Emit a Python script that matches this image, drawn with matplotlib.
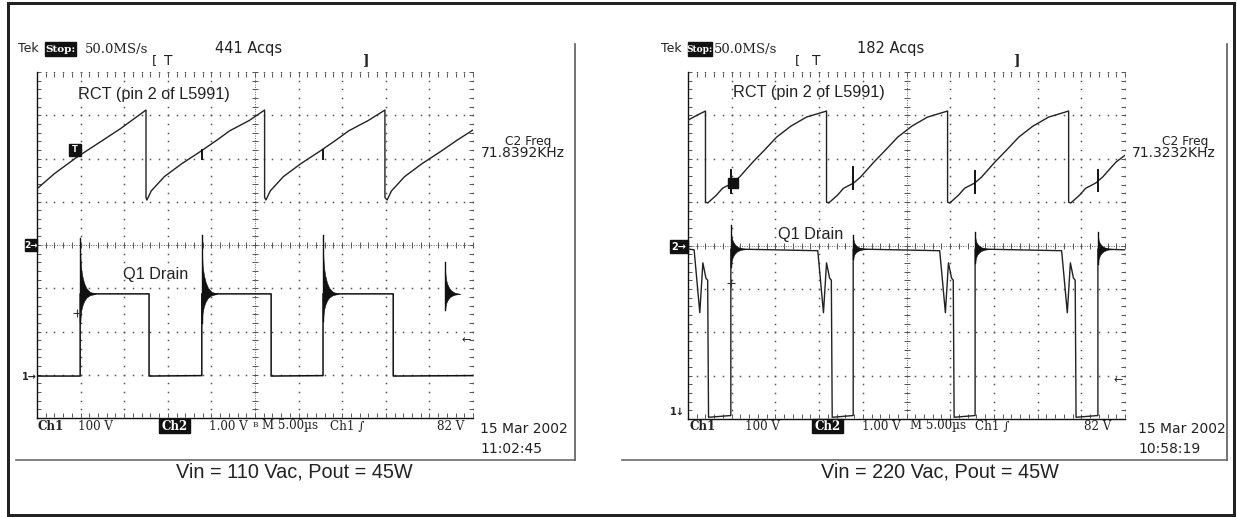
import numpy as np
import matplotlib
matplotlib.use("Agg")
import matplotlib.pyplot as plt
from matplotlib.patches import Rectangle

# ---------------- data (screen divisions: x 0..10, y 0..8) ----------------
# Left screen: Vin = 110 Vac
L_RCT_T = [0.00, 0.40, 0.90, 1.40, 1.90, 2.20, 2.50,
           2.50, 2.52, 2.62, 2.92, 3.32, 3.73, 4.12, 4.42, 4.87, 5.22,
           5.22, 5.25, 5.35, 5.65, 6.05, 6.46, 6.85, 7.15, 7.60, 7.98,
           7.98, 8.03, 8.13, 8.43, 8.83, 9.24, 9.63, 10.00]
L_RCT_V = [5.30, 5.65, 6.02, 6.35, 6.68, 6.90, 7.12,
           5.10, 5.04, 5.25, 5.58, 5.88, 6.15, 6.42, 6.64, 6.88, 7.12,
           5.10, 5.04, 5.25, 5.58, 5.88, 6.15, 6.42, 6.64, 6.88, 7.12,
           5.10, 5.04, 5.25, 5.58, 5.88, 6.15, 6.42, 6.66]
L_DRN_T = [0.00, 0.99, 0.99, 2.57, 2.57, 3.78, 3.78, 5.37, 5.37, 6.56, 6.56, 8.17, 8.17, 10.00]
L_DRN_V = [0.97, 0.97, 2.87, 2.87, 0.97, 0.98, 2.87, 2.87, 0.97, 0.98, 2.87, 2.87, 0.97, 0.98]
L_EDGE_T = [0.99, 3.78, 6.56, 9.36]       # rising edges (ringing)
L_RING_TOP = [4.16, 4.22, 4.22, 3.60]
L_RING_BOT = [2.22, 2.20, 2.25, 2.50]
L_LEVEL = 2.87
L_GLITCH_LO = [6.00, 5.98, 5.98, 6.00]
L_GLITCH_HI = [6.20, 6.20, 6.20, 6.20]

# Right screen: Vin = 220 Vac
R_RCT_T = [0.00, 0.20, 0.40,
           0.40, 0.45, 0.65, 0.79, 1.02, 1.18, 1.48, 1.75, 2.03, 2.35, 2.71, 3.17,
           3.17, 3.22, 3.42, 3.56, 3.79, 3.95, 4.25, 4.52, 4.80, 5.12, 5.48, 5.94,
           5.94, 5.99, 6.19, 6.33, 6.56, 6.72, 7.02, 7.29, 7.57, 7.89, 8.25, 8.71,
           8.71, 8.76, 8.96, 9.10, 9.33, 9.49, 9.79, 10.00]
R_RCT_V = [6.89, 7.00, 7.10,
           5.00, 4.98, 5.16, 5.32, 5.44, 5.58, 5.92, 6.20, 6.50, 6.75, 6.96, 7.10,
           5.00, 4.98, 5.16, 5.32, 5.44, 5.58, 5.92, 6.20, 6.50, 6.75, 6.96, 7.10,
           5.00, 4.98, 5.16, 5.32, 5.44, 5.58, 5.92, 6.20, 6.50, 6.75, 6.96, 7.10,
           5.00, 4.98, 5.16, 5.32, 5.44, 5.58, 5.92, 6.08]
R_DRN_T = [0.00, 0.14, 0.27, 0.34, 0.41, 0.45, 0.47, 0.98, 0.98,
           2.97, 3.10, 3.17, 3.24, 3.28, 3.30, 3.78, 3.78,
           5.76, 5.89, 5.96, 6.03, 6.07, 6.09, 6.57, 6.57,
           8.55, 8.68, 8.75, 8.82, 8.86, 8.88, 9.38, 9.38, 10.00]
R_DRN_V = [3.92, 3.90, 2.45, 3.60, 3.25, 3.20, 0.04, 0.08, 3.92,
           3.88, 2.45, 3.60, 3.25, 3.20, 0.04, 0.08, 3.92,
           3.88, 2.45, 3.60, 3.25, 3.20, 0.04, 0.08, 3.92,
           3.88, 2.45, 3.60, 3.25, 3.20, 0.04, 0.08, 3.92, 3.90]
R_EDGE_T = [0.98, 3.78, 6.57, 9.38]
R_RING_TOP = [4.47, 4.24, 4.30, 4.32]
R_RING_BOT = [3.50, 3.70, 3.60, 3.58]
R_LEVEL = 3.92
R_GLITCH_LO = [5.20, 5.30, 5.20, 5.25]
R_GLITCH_HI = [5.75, 5.80, 5.72, 5.75]

# ringing envelope shape (offset in div, fraction of overshoot)
RING_OFF = [0.00, 0.02, 0.05, 0.09, 0.14, 0.22, 0.35]
RING_FRAC = [1.00, 0.62, 0.42, 0.26, 0.14, 0.05, 0.00]

W, H = 1237, 517
fig = plt.figure(figsize=(W / 100, H / 100), dpi=100)
bg = fig.add_axes([0, 0, 1, 1])
bg.set_xlim(0, W)
bg.set_ylim(H, 0)
bg.axis('off')

SANS = ['Liberation Sans', 'DejaVu Sans']
SCOPE = ['DejaVu Sans']
SERIF = ['DejaVu Serif']

def px(v):
    return v * 72 / 100.0


def txt(x, y, s, size=8.5, family=SCOPE, color='#222', ha='left', va='center', **kw):
    bg.text(x, y, s, fontsize=size, family=family, color=color, ha=ha, va=va, **kw)


def inv_box(x0, y0, x1, y1, s, size=8, family=SERIF):
    bg.add_patch(Rectangle((x0, y0), x1 - x0, y1 - y0, color='#111', zorder=3))
    bg.text((x0 + x1) / 2, (y0 + y1) / 2 + 0.5, s, fontsize=size, family=family,
            color='white', ha='center', va='center', fontweight='bold', zorder=4)


def screen(x0, y0, x1, y1):
    ax = fig.add_axes([x0 / W, 1 - y1 / H, (x1 - x0) / W, (y1 - y0) / H])
    ax.set_xlim(0, 10)
    ax.set_ylim(0, 8)
    ax.patch.set_alpha(0)
    for s in ['top', 'right']:
        ax.spines[s].set_visible(False)
    for s in ['left', 'bottom']:
        ax.spines[s].set_linewidth(px(1.4))
        ax.spines[s].set_color('#111')
    ax.set_xticks([])
    ax.set_yticks([])
    gc = '#555'
    ys = np.arange(0, 8.001, 0.2)
    xs = np.arange(0, 10.001, 0.2)
    for xv in range(1, 11):
        if xv == 5:
            continue
        ax.plot(np.full(ys.size, xv), ys, ls='none', marker='s', ms=1.1, mew=0, color=gc)
    for yv in range(1, 9):
        if yv == 4:
            continue
        ax.plot(xs, np.full(xs.size, yv), ls='none', marker='s', ms=1.1, mew=0, color=gc)
    # center lines with small ticks
    ax.plot([5, 5], [0, 8], color='#666', lw=0.7, ls=(0, (1, 1.5)))
    ax.plot([0, 10], [4, 4], color='#666', lw=0.7, ls=(0, (1, 1.5)))
    ax.plot(np.full(ys.size, 5), ys, ls='none', marker='_', ms=4, mew=0.7, color='#555')
    ax.plot(xs, np.full(xs.size, 4), ls='none', marker='|', ms=4, mew=0.7, color='#555')
    # edge ticks
    ax.plot(xs, np.full(xs.size, 7.93), ls='none', marker='|', ms=2.5, mew=0.7, color='#555')
    ax.plot(np.full(ys.size, 9.95), ys, ls='none', marker='_', ms=2.5, mew=0.7, color='#555')
    ax.plot(xs, np.full(xs.size, 0.07), ls='none', marker='|', ms=2.5, mew=0.7, color='#555')
    ax.plot(np.full(ys.size, 0.05), ys, ls='none', marker='_', ms=2.5, mew=0.7, color='#555')
    return ax


def ringing(ax, edges, tops, bots, level):
    off = np.array(RING_OFF)
    frac = np.array(RING_FRAC)
    for t0, top, bot in zip(edges, tops, bots):
        up = level + frac * (top - level) * 0.75
        lo = level - frac * (level - bot)
        ax.fill_between(t0 + off, lo, up, color='#111', lw=0.4, zorder=5)
        ax.plot([t0, t0], [bot, top], color='#111', lw=1.0, zorder=5)


def glitches(ax, edges, lo, hi):
    for t0, a, b in zip(edges, lo, hi):
        ax.plot([t0, t0], [a, b], color='#111', lw=1.4, zorder=5)


# ---------------- frames ----------------
bg.add_patch(Rectangle((8, 3), 1226, 512, fill=False, lw=px(3), ec='#222'))
bg.plot([575, 575], [44, 460], color='#555', lw=px(1.6))
bg.plot([16, 575], [460, 460], color='#666', lw=px(1.6))
bg.plot([1227, 1227], [44, 460], color='#555', lw=px(1.6))
bg.plot([622, 1227], [460, 460], color='#666', lw=px(1.6))

# ---------------- left screen ----------------
axL = screen(37, 72, 473, 418)
axL.plot(L_RCT_T, L_RCT_V, color='#222', lw=1.0, zorder=4)
axL.plot(L_DRN_T, L_DRN_V, color='#111', lw=1.1, zorder=4)
ringing(axL, L_EDGE_T, L_RING_TOP, L_RING_BOT, L_LEVEL)
glitches(axL, L_EDGE_T[1:3], L_GLITCH_LO[1:3], L_GLITCH_HI[1:3])
axL.plot([0.87], [6.2], marker='s', ms=8, color='#111', zorder=6)
axL.text(0.87, 6.2, 'T', color='white', fontsize=6, ha='center', va='center', zorder=7, fontweight='bold')
axL.plot([0.92], [2.43], marker='+', ms=6, mew=0.8, color='#333', zorder=6)

# ---------------- right screen ----------------
axR = screen(688, 72, 1125, 419)
axR.plot(R_RCT_T, R_RCT_V, color='#222', lw=1.0, zorder=4)
axR.plot(R_DRN_T, R_DRN_V, color='#222', lw=1.0, zorder=4)
ringing(axR, R_EDGE_T, R_RING_TOP, R_RING_BOT, R_LEVEL)
glitches(axR, R_EDGE_T, R_GLITCH_LO, R_GLITCH_HI)
axR.plot([1.03], [5.44], marker='s', ms=7, color='#111', zorder=6)
axR.plot([0.98], [3.13], marker='+', ms=6, mew=0.8, color='#333', zorder=6)

RD = 8.6      # bottom readout font size
# ---------------- left texts ----------------
txt(18, 49, 'Tek', size=9)
inv_box(45, 42, 76, 56, 'Stop:', size=7.5)
txt(85, 49, '50.0MS/s', size=9.5, family=SERIF)
txt(215, 49, '441 Acqs', size=10.5)
txt(152, 61, '[', size=9.5)
txt(164, 61, 'T', size=10)
txt(362, 60, ']', size=10, family=SERIF, fontweight='bold')
txt(78, 95, 'RCT (pin 2 of L5991)', size=11.7, family=SANS)
txt(123, 275, 'Q1 Drain', size=11.7, family=SANS)
txt(528, 141, 'C2 Freq', size=8.8, ha='center')
txt(523, 153, '71.8392KHz', size=10, ha='center')
inv_box(25, 239, 37, 251, '2→', size=6.5, family=SCOPE)
txt(22, 377, '1→', size=7, fontweight='bold')
txt(462, 340, '←', size=8)
txt(38, 426, 'Ch1', size=RD, family=SERIF, fontweight='bold')
txt(78, 426, '100 V', size=RD, family=SERIF)
inv_box(159, 419, 190, 433, 'Ch2', size=RD)
txt(209, 426, '1.00 V', size=RD, family=SERIF)
txt(253, 425, 'B', size=5.5, family=SERIF)
txt(262, 426, 'M 5.00µs', size=RD, family=SERIF)
txt(330, 426, 'Ch1 ∫', size=RD, family=SERIF)
txt(437, 426, '82 V', size=RD, family=SERIF)
txt(480, 429, '15 Mar 2002', size=10)
txt(480, 449, '11:02:45', size=10)
txt(294, 472, 'Vin = 110 Vac, Pout = 45W', size=14.3, family=SANS, ha='center')

# ---------------- right texts ----------------
txt(661, 49, 'Tek', size=9)
inv_box(688, 42, 712, 56, 'Stop:', size=6.5)
txt(714, 49, '50.0MS/s', size=9.5, family=SERIF)
txt(857, 49, '182 Acqs', size=10.5)
txt(795, 61, '[', size=9.5)
txt(812, 61, 'T', size=10)
txt(1013, 60, ']', size=10, family=SERIF, fontweight='bold')
txt(733, 93, 'RCT (pin 2 of L5991)', size=11.7, family=SANS)
txt(778, 235, 'Q1 Drain', size=11.7, family=SANS)
txt(1185, 141, 'C2 Freq', size=8.8, ha='center')
txt(1174, 153, '71.3232KHz', size=10, ha='center')
inv_box(670, 240, 688, 253, '2→', size=7, family=SCOPE)
txt(670, 412, '1↓', size=7, fontweight='bold')
txt(1114, 380, '←', size=8)
txt(690, 426, 'Ch1', size=RD, family=SERIF, fontweight='bold')
txt(745, 426, '100 V', size=RD, family=SERIF)
inv_box(812, 419, 843, 433, 'Ch2', size=RD)
txt(862, 426, '1.00 V', size=RD, family=SERIF)
txt(910, 426, 'M 5.00µs', size=RD, family=SERIF)
txt(975, 426, 'Ch1 ∫', size=RD, family=SERIF)
txt(1084, 426, '82 V', size=RD, family=SERIF)
txt(1138, 429, '15 Mar 2002', size=10)
txt(1138, 449, '10:58:19', size=10)
txt(940, 472, 'Vin = 220 Vac, Pout = 45W', size=14.3, family=SANS, ha='center')

fig.savefig('out.png', dpi=100)
